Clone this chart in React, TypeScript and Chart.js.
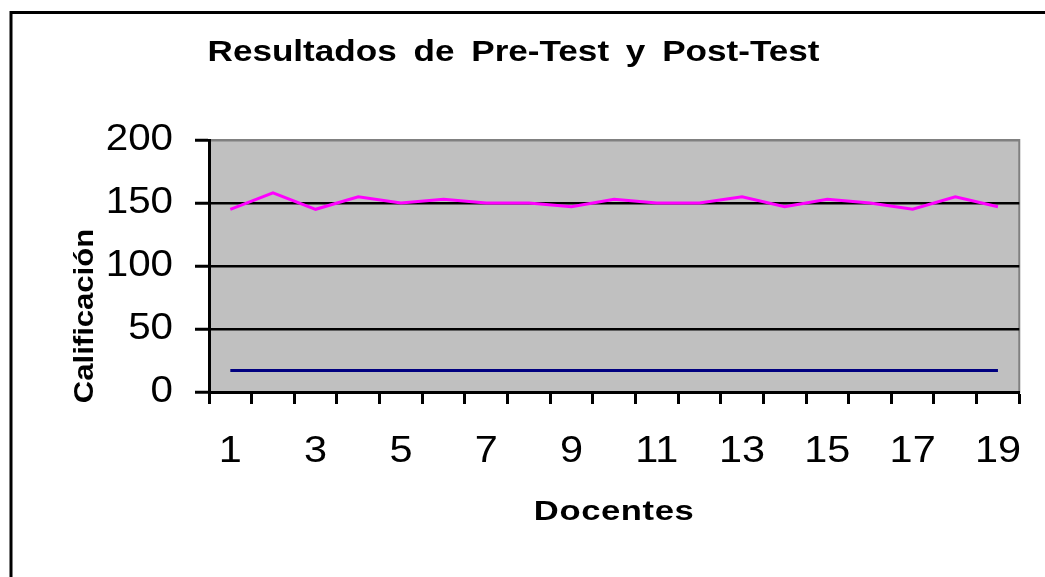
import React, { useEffect, useRef } from "react";
import { Chart, registerables } from "chart.js";

Chart.register(...registerables);

const categories: string[] = ["1","2","3","4","5","6","7","8","9","10","11","12","13","14","15","16","17","18","19"];
const postTest: number[] = [145, 158, 145, 155, 150, 153, 150, 150, 147, 153, 150, 150, 155, 147, 153, 150, 145, 155, 147];
const preTest: number[] = [17, 17, 17, 17, 17, 17, 17, 17, 17, 17, 17, 17, 17, 17, 17, 17, 17, 17, 17];
const yTicks: number[] = [0, 50, 100, 150, 200];

const chartTitle = "Resultados de Pre-Test y Post-Test";
const xTitle = "Docentes";
const yTitle = "Calificación";

const FONT = 'Arial, "Liberation Sans", sans-serif';

// horizontal stretch / spacing to mimic the wide text of the original
type TextStyle = { sx: number; ls: string; ws: string };
const styleFor = (text: string, font: string): TextStyle => {
  if (text === chartTitle) return { sx: 1.17, ls: "0px", ws: "6px" };
  if (text === xTitle) return { sx: 1.28, ls: "0.5px", ws: "0px" };
  if (text === yTitle) return { sx: 1.11, ls: "0px", ws: "0px" };
  return { sx: 1.12, ls: "0px", ws: "0px" };
};

const textPlugin = {
  id: "textPlugin",
  beforeInit(chart: any) {
    const ctx = chart.ctx;
    if (ctx.__patched) return;
    const orig = ctx.fillText;
    ctx.fillText = function (text: string, x: number, y: number) {
      const st = styleFor(String(text), String(this.font));
      this.save();
      try {
        this.letterSpacing = st.ls;
        this.wordSpacing = st.ws;
      } catch (e) {}
      this.translate(x, y);
      this.scale(st.sx, 1);
      orig.call(this, text, 0, 0);
      this.restore();
    };
    ctx.__patched = true;
  },
};

const bgPlugin = {
  id: "bgPlugin",
  beforeDraw(chart: any) {
    const { ctx, chartArea } = chart;
    ctx.save();
    ctx.fillStyle = "#ffffff";
    ctx.fillRect(0, 0, chart.width, chart.height);
    ctx.strokeStyle = "#000000";
    ctx.lineWidth = 3;
    ctx.strokeRect(11, 12.5, 2000, 2000);
    ctx.fillStyle = "#C0C0C0";
    ctx.fillRect(chartArea.left, chartArea.top, chartArea.right - chartArea.left, chartArea.bottom - chartArea.top);
    ctx.strokeStyle = "#808080";
    ctx.lineWidth = 2;
    ctx.strokeRect(chartArea.left, chartArea.top, chartArea.right - chartArea.left, chartArea.bottom - chartArea.top);
    ctx.restore();
  },
  afterDraw(chart: any) {
    // y-axis title, placed low as in the original
    const { ctx, chartArea } = chart;
    ctx.save();
    ctx.translate(85, chartArea.bottom - 76);
    ctx.rotate(-Math.PI / 2);
    ctx.font = "bold 28px " + FONT;
    ctx.fillStyle = "#000000";
    ctx.textAlign = "center";
    ctx.textBaseline = "middle";
    ctx.fillText(yTitle, 0, 0);
    ctx.restore();
  },
};

export default function App() {
  const ref = useRef<HTMLCanvasElement | null>(null);
  useEffect(() => {
    if (!ref.current) return;
    const chart = new Chart(ref.current, {
      type: "line",
      data: {
        labels: categories,
        datasets: [
          {
            label: "Post-Test",
            data: postTest,
            borderColor: "#FF00FF",
            backgroundColor: "#FF00FF",
            borderWidth: 3,
            pointRadius: 0,
            tension: 0,
          },
          {
            label: "Pre-Test",
            data: preTest,
            borderColor: "#000080",
            backgroundColor: "#000080",
            borderWidth: 3,
            pointRadius: 0,
            tension: 0,
          },
        ],
      },
      options: {
        responsive: false,
        animation: false,
        layout: { padding: { left: 0, right: 18, top: 0, bottom: 0 } },
        plugins: {
          legend: { display: false },
          tooltip: { enabled: false },
          title: {
            display: true,
            text: chartTitle,
            color: "#000000",
            font: { family: FONT, size: 30, weight: "bold" },
            padding: { top: 35, bottom: 69 },
          },
        },
        scales: {
          x: {
            type: "category",
            offset: true,
            border: { display: true, color: "#000000", width: 3 },
            grid: {
              offset: true,
              drawOnChartArea: false,
              drawTicks: true,
              tickLength: 12,
              tickColor: "#000000",
              tickWidth: 3,
            },
            ticks: {
              autoSkip: false,
              maxRotation: 0,
              color: "#000000",
              padding: 26,
              font: { family: FONT, size: 37 },
              callback: (_v: any, i: number) => (i % 2 === 0 ? categories[i] : ""),
            },
            title: {
              display: true,
              text: xTitle,
              color: "#000000",
              font: { family: FONT, size: 27, weight: "bold" },
              padding: { top: 0, bottom: 48 },
            },
            afterFit: (scale: any) => {
              scale.height = 185;
            },
          },
          y: {
            min: 0,
            max: 200,
            border: { display: true, color: "#000000", width: 3 },
            grid: {
              color: (ctx: any) => (ctx.tick && ctx.tick.value === 200 ? "#808080" : "#000000"),
              lineWidth: 2.5,
              drawTicks: true,
              tickLength: 14,
              tickColor: "#000000",
              tickWidth: 3,
            },
            afterBuildTicks: (scale: any) => {
              scale.ticks = yTicks.map((v) => ({ value: v }));
            },
            ticks: {
              color: "#000000",
              padding: 22,
              font: { family: FONT, size: 36 },
            },
            title: { display: false, text: yTitle },
            afterFit: (scale: any) => {
              scale.width = 209;
            },
          },
        },
      },
      plugins: [textPlugin, bgPlugin],
    });
    return () => chart.destroy();
  }, []);
  return (
    <div style={{ position: "absolute", left: 0, top: 0, width: 1045, height: 577, background: "#fff" }}>
      <canvas ref={ref} width={1045} height={577} style={{ display: "block" }} />
    </div>
  );
}
